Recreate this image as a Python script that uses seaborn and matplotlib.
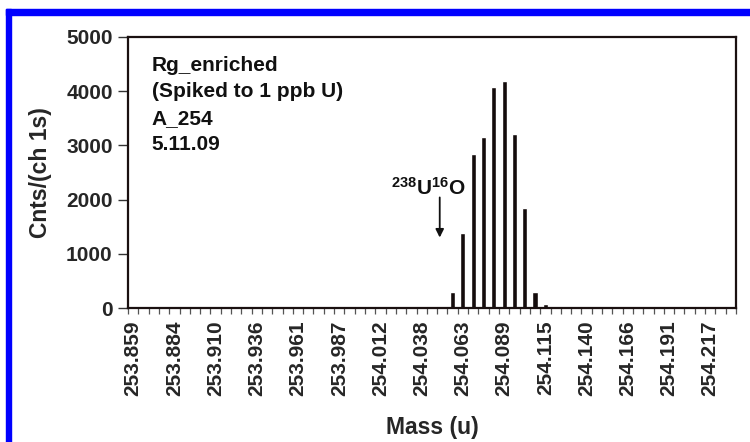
import numpy as np
import pandas as pd
import matplotlib.pyplot as plt
from matplotlib.patches import Rectangle
import seaborn as sns

# counts per channel (59 channels)
counts = [
    0, 0, 0, 0, 0, 0, 0, 0, 0, 0,
    0, 0, 0, 0, 0, 0, 0, 0, 0, 0,
    0, 0, 0, 0, 0, 0, 0, 0, 0, 0,
    0, 295, 1390, 2840, 3160, 4080, 4190, 3210, 1850, 295,
    70, 0, 0, 0, 0, 0, 0, 0, 0, 0,
    0, 0, 0, 0, 0, 0, 0, 0, 0,
]
channels = list(range(len(counts)))

# every 4th channel is labelled
mass_labels = ["253.859", "253.884", "253.910", "253.936", "253.961",
               "253.987", "254.012", "254.038", "254.063", "254.089",
               "254.115", "254.140", "254.166", "254.191", "254.217"]

info_text = "Rg_enriched\n(Spiked to 1 ppb U)\nA_254\n5.11.09"

sns.set_theme(style="white")
plt.rcParams['font.family'] = ['Liberation Sans', 'DejaVu Sans']
plt.rcParams['font.weight'] = 'bold'
plt.rcParams['mathtext.fontset'] = 'custom'
plt.rcParams['mathtext.bf'] = 'Liberation Sans:bold'
plt.rcParams['mathtext.rm'] = 'Liberation Sans:bold'

df = pd.DataFrame({'channel': channels, 'counts': counts})

fig = plt.figure(figsize=(7.5, 4.42), dpi=100)
ax = fig.add_axes([128 / 750, 134 / 442, 608 / 750, 271 / 442])

sns.barplot(data=df, x='channel', y='counts', order=channels,
            color='#140c0c', width=0.5, saturation=1, ax=ax)

ax.set_xlim(-0.5, len(counts) - 0.5)
ax.set_ylim(0, 5000)
ax.set_yticks([0, 1000, 2000, 3000, 4000, 5000])
ax.set_xticks(list(range(0, len(counts), 4)))
ax.set_xticklabels(mass_labels, rotation=90, fontsize=15, fontweight='bold')
ax.set_xticks(np.arange(-0.5, len(counts), 1), minor=True)
ax.tick_params(axis='x', which='major', length=0, pad=9)
ax.tick_params(axis='x', which='minor', bottom=True, length=4, width=0.9, color='#555555', direction='out')
ax.tick_params(axis='y', left=True, length=7, width=1, color='#333333', direction='out',
               labelsize=15, pad=4)
for lab in ax.get_yticklabels():
    lab.set_fontweight('bold')

for s in ax.spines.values():
    s.set_color('#1a1010')
    s.set_linewidth(1.6)

ax.set_xlabel('Mass (u)', fontsize=16.5, fontweight='bold', labelpad=14)
ax.set_ylabel('Cnts/(ch 1s)', fontsize=16.5, fontweight='bold', labelpad=10)

ax.text(0.039, 0.93, info_text, transform=ax.transAxes, ha='left', va='top',
        fontsize=15, fontweight='bold', linespacing=1.5, color='#111111')

ax.annotate('', xy=(29.75, 1300), xytext=(29.75, 2040),
            arrowprops=dict(arrowstyle='-|>', color='#111111', lw=1.3,
                            mutation_scale=12, shrinkA=0, shrinkB=0))
ax.text(28.6, 2220, r'$\mathbf{^{238}U^{16}O}$', ha='center', va='center',
        fontsize=15, color='#111111')

# blue frame on the left and top edges
fig.patches.append(Rectangle((6 / 750, 0), 5 / 750, 433 / 442,
                             transform=fig.transFigure, color='#0000ff', zorder=5))
fig.patches.append(Rectangle((6 / 750, 427 / 442), 744 / 750, 6 / 442,
                             transform=fig.transFigure, color='#0000ff', zorder=5))

fig.savefig('out.png', dpi=100)
